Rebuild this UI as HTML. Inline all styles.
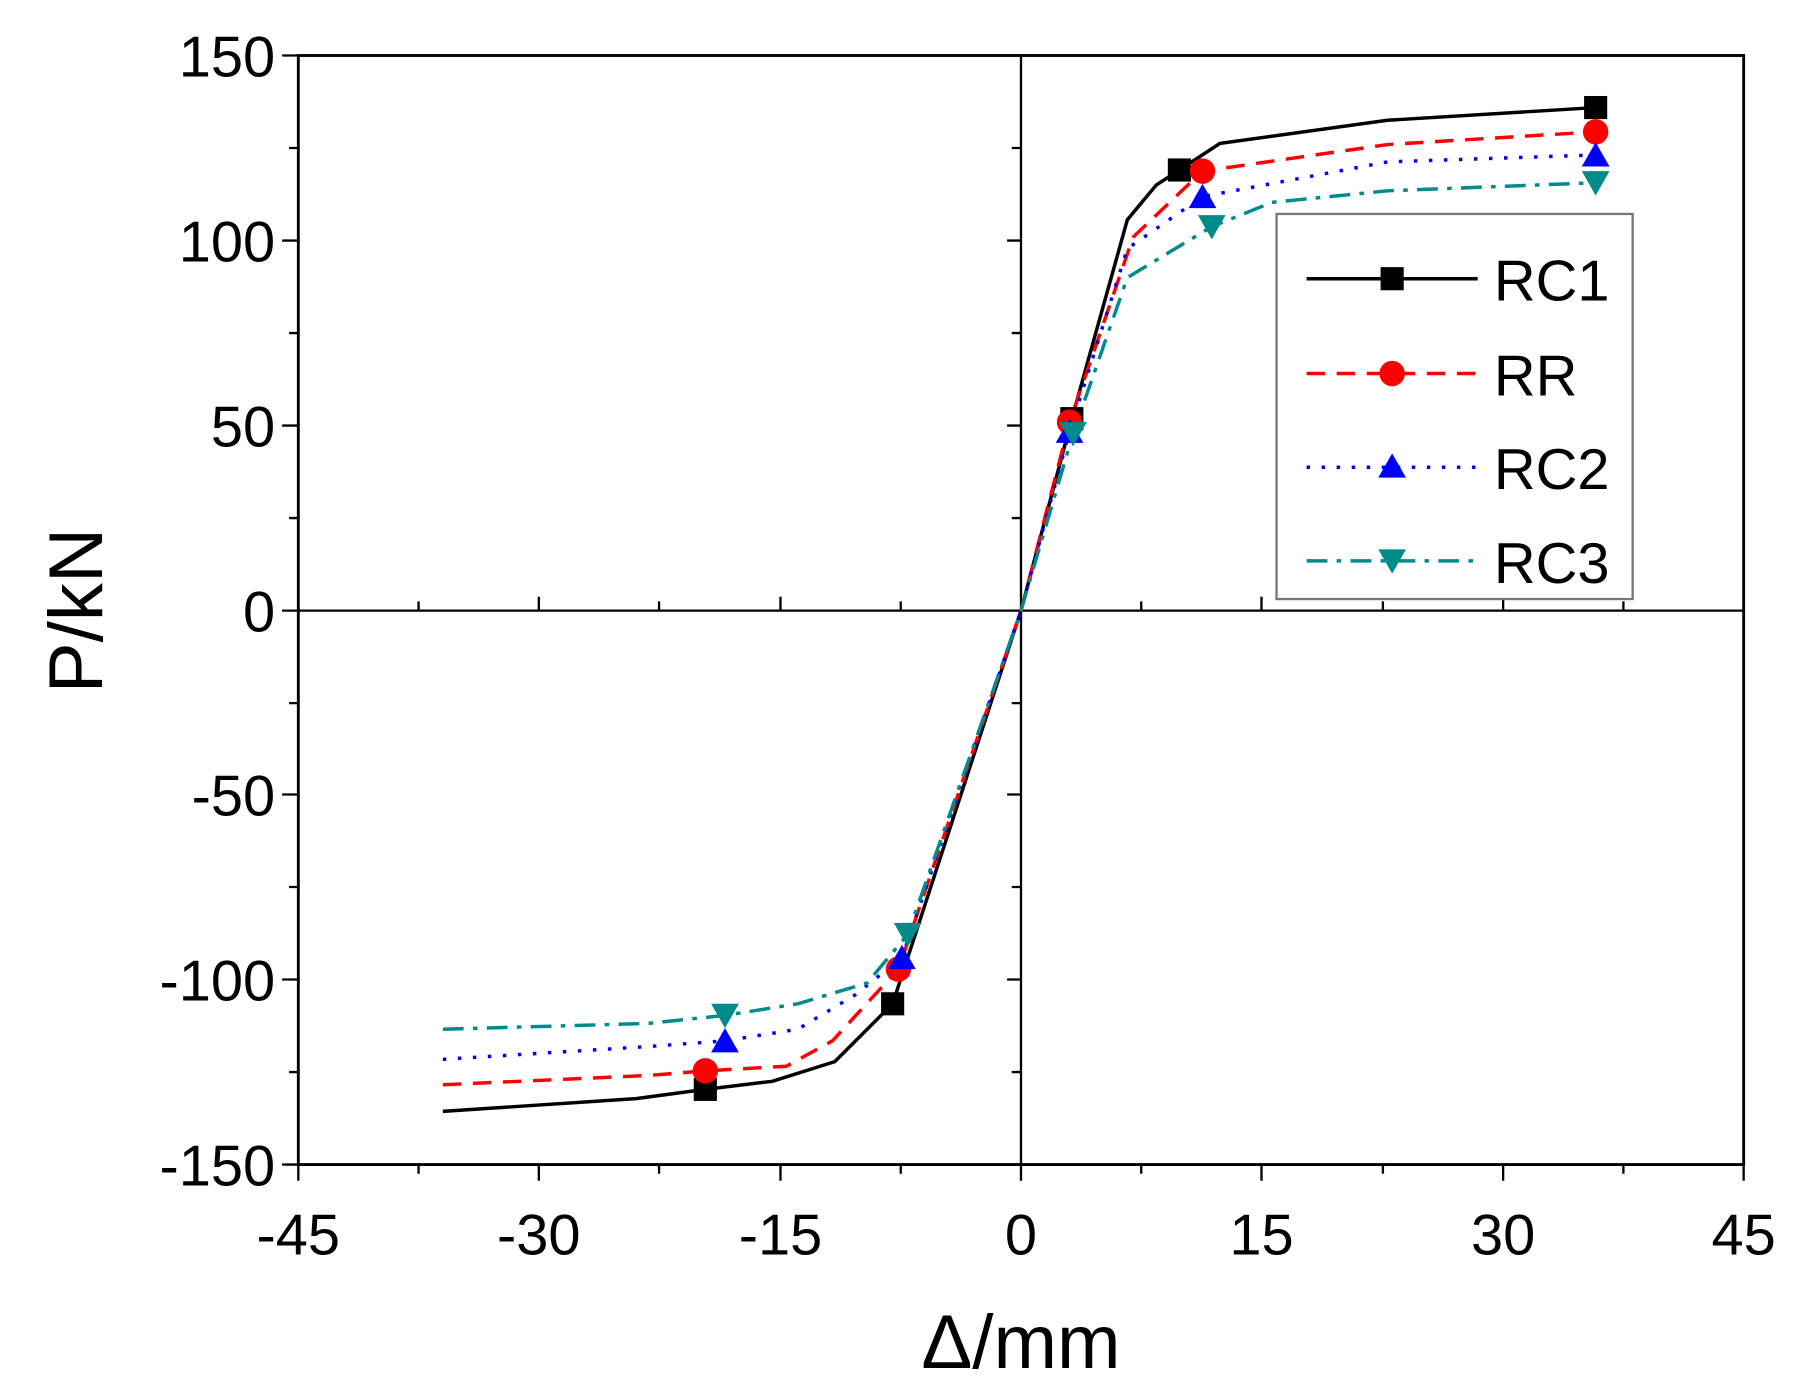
<!DOCTYPE html>
<html><head><style>html,body{margin:0;padding:0;background:#fff}svg{display:block}</style></head>
<body>
<svg width="1798" height="1397" viewBox="0 0 1555 1208" preserveAspectRatio="none" xmlns="http://www.w3.org/2000/svg" font-family="Liberation Sans, sans-serif">
<rect x="258" y="48" width="1250" height="959" fill="none" stroke="#000" stroke-width="2.5"/>
<line x1="258" y1="528" x2="1508" y2="528" stroke="#000" stroke-width="2"/>
<line x1="883" y1="48" x2="883" y2="1007" stroke="#000" stroke-width="2"/>
<g stroke="#000" stroke-width="2">
<path d="M258 1007v14M362 1007v8M466 1007v14M570 1007v8M675 1007v14M779 1007v8M883 1007v14M987 1007v8M1091 1007v14M1196 1007v8M1300 1007v14M1404 1007v8M1508 1007v14"/>
<path d="M362 528v-8M466 528v-12M570 528v-8M675 528v-12M779 528v-8M987 528v-8M1091 528v-12M1196 528v-8M1300 528v-12M1404 528v-8"/>
<path d="M258 48h-14M258 128h-8M258 208h-14M258 288h-8M258 368h-14M258 448h-8M258 528h-14M258 608h-8M258 687h-14M258 767h-8M258 847h-14M258 927h-8M258 1007h-14"/>
<path d="M883 128h-8M883 208h-12M883 288h-8M883 368h-12M883 448h-8M883 608h-8M883 687h-12M883 767h-8M883 847h-12M883 927h-8"/>
</g>
<g font-size="50" text-anchor="end" fill="#000">
<text x="238" y="66">150</text><text x="238" y="226">100</text><text x="238" y="386">50</text><text x="238" y="546">0</text><text x="238" y="705">-50</text><text x="238" y="865">-100</text><text x="238" y="1025">-150</text>
</g>
<g font-size="50" text-anchor="middle" fill="#000">
<text x="258" y="1085">-45</text><text x="466" y="1085">-30</text><text x="675" y="1085">-15</text><text x="883" y="1085">0</text><text x="1091" y="1085">15</text><text x="1300" y="1085">30</text><text x="1508" y="1085">45</text>
</g>
<text x="883" y="1183" font-size="66" text-anchor="middle">Δ/mm</text>
<text transform="translate(88,528) rotate(-90)" font-size="66" text-anchor="middle">P/kN</text>
<polyline fill="none" stroke="#000" stroke-width="3" points="383,961 550,950 610,942 668,935 722,918 772,868 883,528 927,362 975,190 1000,160 1020,147 1055,124 1200,104 1380,93"/>
<polyline fill="none" stroke="#f00" stroke-width="3" stroke-dasharray="16,10" points="383,938 560,930 610,926 680,922 720,900 777,838 883,528 925,365 980,205 1040,148 1200,125 1380,114"/>
<polyline fill="none" stroke="#00f" stroke-width="3" stroke-dasharray="3,10" points="383,916 560,905 627,900 690,890 740,860 780,828 883,528 925,373 975,215 1040,170 1200,140 1380,134"/>
<polyline fill="none" stroke="#008b8b" stroke-width="3" stroke-dasharray="18,8,4,8" points="383,890 560,885 627,878 690,868 750,850 785,808 883,528 928,375 975,240 1048,196 1100,175 1200,165 1380,158"/>
<g fill="#000"><rect x="600" y="932" width="20" height="20"/><rect x="762" y="858" width="20" height="20"/><rect x="917" y="352" width="20" height="20"/><rect x="1010" y="137" width="20" height="20"/><rect x="1370" y="83" width="20" height="20"/></g>
<g fill="#f00"><circle cx="610" cy="926" r="11"/><circle cx="777" cy="838" r="11"/><circle cx="925" cy="365" r="11"/><circle cx="1040" cy="148" r="11"/><circle cx="1380" cy="114" r="11"/></g>
<g fill="#00f"><path d="M627 889l12 21h-24z"/><path d="M780 817l12 21h-24z"/><path d="M925 362l12 21h-24z"/><path d="M1040 159l12 21h-24z"/><path d="M1380 123l12 21h-24z"/></g>
<g fill="#008b8b"><path d="M627 889l12-21h-24z"/><path d="M785 819l12-21h-24z"/><path d="M928 386l12-21h-24z"/><path d="M1048 207l12-21h-24z"/><path d="M1380 169l12-21h-24z"/></g>
<rect x="1104" y="185" width="308" height="333" fill="#fff" stroke="#777" stroke-width="2"/>
<line x1="1130" y1="241" x2="1278" y2="241" stroke="#000" stroke-width="3"/><rect x="1194" y="231" width="20" height="20"/>
<line x1="1130" y1="323" x2="1278" y2="323" stroke="#f00" stroke-width="3" stroke-dasharray="16,10"/><circle cx="1204" cy="323" r="11" fill="#f00"/>
<line x1="1130" y1="404" x2="1278" y2="404" stroke="#00f" stroke-width="3" stroke-dasharray="3,10"/><path d="M1204 392l12 21h-24z" fill="#00f"/>
<line x1="1130" y1="485" x2="1278" y2="485" stroke="#008b8b" stroke-width="3" stroke-dasharray="18,8,4,8"/><path d="M1204 496l12-21h-24z" fill="#008b8b"/>
<g font-size="50" fill="#000"><text x="1292" y="260">RC1</text><text x="1292" y="342">RR</text><text x="1292" y="423">RC2</text><text x="1292" y="504">RC3</text></g>
</svg>
</body></html>
